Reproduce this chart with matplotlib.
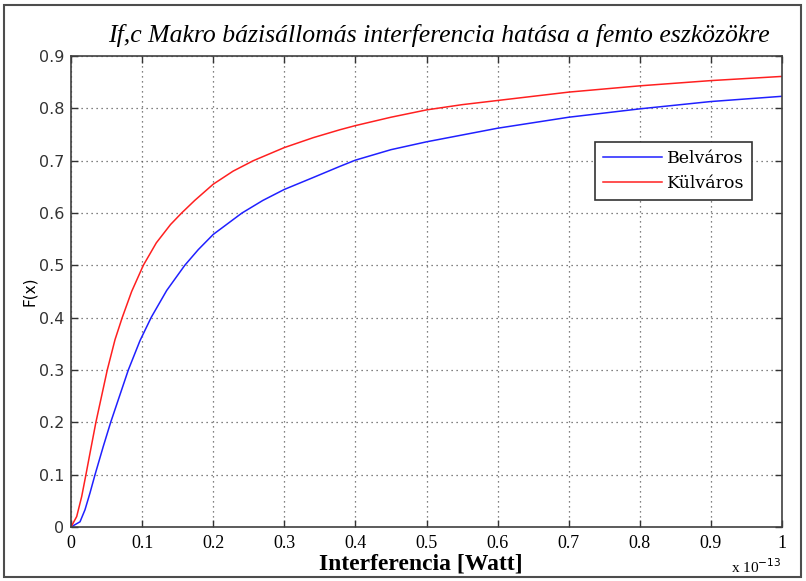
import numpy as np
import matplotlib
matplotlib.use('Agg')
import matplotlib.pyplot as plt
from matplotlib.patches import Rectangle
from matplotlib.ticker import FuncFormatter, FixedLocator

# Interference values in units of 1e-13 W
X_SCALE = 1e-13

belvaros_x = [0.0, 0.0127, 0.0197, 0.0267, 0.0338, 0.0454, 0.0558, 0.0806, 0.097, 0.113,
              0.1346, 0.160, 0.179, 0.2, 0.2405, 0.2698, 0.3, 0.341, 0.378, 0.4,
              0.45, 0.5, 0.55, 0.6, 0.7, 0.8, 0.9, 1.0]
belvaros_y = [0.0, 0.010, 0.033, 0.065, 0.1, 0.154, 0.2, 0.3, 0.356, 0.401,
              0.452, 0.5, 0.530, 0.559, 0.6, 0.624, 0.645, 0.668, 0.689, 0.701,
              0.721, 0.736, 0.749, 0.762, 0.783, 0.799, 0.813, 0.823]

kulvaros_x = [0.0, 0.008, 0.015, 0.021, 0.0267, 0.035, 0.051, 0.0619, 0.072, 0.0853,
              0.1017, 0.12, 0.14, 0.1556, 0.174, 0.2, 0.228, 0.2565, 0.3, 0.3408,
              0.378, 0.4, 0.45, 0.5, 0.55, 0.6, 0.7, 0.8, 0.9, 1.0]
kulvaros_y = [0.0, 0.020, 0.058, 0.1, 0.141, 0.2, 0.3, 0.358, 0.400, 0.450,
              0.5, 0.543, 0.578, 0.6, 0.624, 0.655, 0.680, 0.7, 0.725, 0.744,
              0.759, 0.767, 0.783, 0.797, 0.807, 0.815, 0.831, 0.843, 0.853, 0.861]

labels = ['Belváros', 'Külváros']
title = 'If,c Makro bázisállomás interferencia hatása a femto eszközökre'
xticks = [0.0, 0.1, 0.2, 0.3, 0.4, 0.5, 0.6, 0.7, 0.8, 0.9, 1.0]
yticks = [0.0, 0.1, 0.2, 0.3, 0.4, 0.5, 0.6, 0.7, 0.8, 0.9]

SERIF = 'Liberation Serif'
SANS = 'DejaVu Sans'

fig = plt.figure(figsize=(8.06, 5.81), dpi=100)
ax = fig.add_axes([71 / 806, 1 - 527 / 581, 711 / 806, 471 / 581])

ax.plot(np.array(belvaros_x) * X_SCALE, belvaros_y, color='#2020ff', lw=1.1, label=labels[0])
ax.plot(np.array(kulvaros_x) * X_SCALE, kulvaros_y, color='#ff2020', lw=1.1, label=labels[1])

ax.set_xlim(0, 1e-13)
ax.set_ylim(0, 0.9)
ax.xaxis.set_major_locator(FixedLocator([t * X_SCALE for t in xticks]))
ax.yaxis.set_major_locator(FixedLocator(yticks))
ax.xaxis.set_major_formatter(FuncFormatter(lambda v, p: f'{v / X_SCALE:.10g}'))
ax.yaxis.set_major_formatter(FuncFormatter(lambda v, p: f'{v:g}'))

ax.grid(True, linestyle=(0, (1, 3)), color='0.35', lw=0.9)
ax.tick_params(direction='in', top=True, right=True, length=5, width=1, color='0.2')
for lbl in ax.get_xticklabels():
    lbl.set_fontfamily(SERIF)
    lbl.set_fontsize(13)
for lbl in ax.get_yticklabels():
    lbl.set_fontfamily(SANS)
    lbl.set_fontsize(11.5)
    lbl.set_color('0.2')
ax.tick_params(axis='x', pad=6)
ax.tick_params(axis='y', pad=5)
for s in ax.spines.values():
    s.set_color('0.25')
    s.set_linewidth(1.2)

ax.set_xlabel('Interferencia [Watt]', fontfamily=SERIF, fontweight='bold', fontsize=17, labelpad=1)
ax.xaxis.set_label_coords(0.4916, -0.056, transform=ax.transAxes)
ax.xaxis.label.set_va('top')
ax.set_ylabel('F(x)', fontfamily=SANS, fontsize=11, labelpad=1)
ax.set_title(title, fontfamily=SERIF, fontstyle='italic', fontsize=18.5, pad=10, x=0.517)

fig.text(731 / 806, 1 - 567 / 581, r'x 10$^{-13}$', fontfamily=SERIF, fontsize=11,
         ha='left', va='center')

leg = ax.legend(loc='upper right', bbox_to_anchor=(0.958, 0.817), borderaxespad=0,
                prop={'family': 'DejaVu Serif', 'size': 12.5},
                fancybox=False, edgecolor='0.2', framealpha=1, handlelength=3.4,
                labelspacing=0.45, borderpad=0.45, handletextpad=0.3)
leg.get_frame().set_linewidth(1.2)

# outer frame around the figure
fig.patches.append(Rectangle((4 / 806, 4 / 581), 797 / 806, 572 / 581, transform=fig.transFigure,
                             fill=False, edgecolor='0.3', lw=1.5))

fig.savefig('out.png', dpi=100)
